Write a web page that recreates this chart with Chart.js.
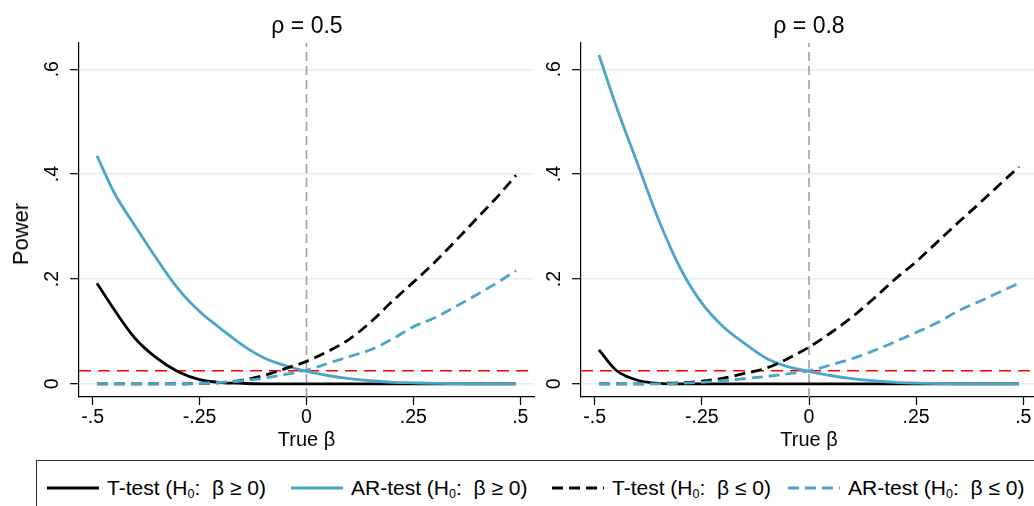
<!DOCTYPE html>
<html lang="en">
<head>
<meta charset="UTF-8">
<title>Power of one-sided tests</title>
<script src="https://cdn.jsdelivr.net/npm/chart.js"></script>
<style>
  body {
    margin: 0;
    width: 1034px;
    height: 506px;
    overflow: hidden;
    position: relative;
    background: #fff;
    color: #000;
    font-family: "Liberation Sans", Arial, sans-serif;
  }
  canvas { position: absolute; top: 0; }
  #chartRho05 { left: 0; }
  #chartRho08 { left: 502px; }

  .panel-title {
    position: absolute;
    top: 14px;
    font-size: 23px;
    line-height: 23px;
    white-space: nowrap;
    transform: translateX(-50%);
  }
  #yTitle {
    position: absolute;
    left: 21px;
    top: 234px;
    font-size: 22px;
    line-height: 22px;
    transform: translate(-50%, -50%) rotate(-90deg);
  }

  #legendBox {
    position: absolute;
    left: 36px;
    top: 460px;
    width: 1020px;
    height: 60px;
    border: 1px solid #333;
  }
  .key-line { position: absolute; top: 485px; }
  .key-text {
    position: absolute;
    top: 477px;
    font-size: 21px;
    line-height: 21px;
    white-space: nowrap;
  }
  .key-text sub { font-size: 12.5px; vertical-align: -3px; line-height: 0; }
</style>
</head>
<body>
  <canvas id="chartRho05" width="541" height="455"></canvas>
  <canvas id="chartRho08" width="542" height="455"></canvas>

  <div class="panel-title" style="left:307px">ρ = 0.5</div>
  <div class="panel-title" style="left:809px">ρ = 0.8</div>
  <div id="yTitle">Power</div>

  <div id="legendBox"></div>
  <div id="legendItems"></div>

<script>
// true beta grid used in the simulations
const beta = [-0.49, -0.45, -0.4, -0.35, -0.3, -0.25, -0.2, -0.15, -0.1, -0.05, 0,
              0.05, 0.1, 0.15, 0.2, 0.25, 0.3, 0.35, 0.4, 0.45, 0.49];

// rho = 0.5
const tPosRho05  = [0.192, 0.142, 0.086, 0.049, 0.023, 0.008, 0.0025, 0.001, 0, 0, 0,
                    0, 0, 0, 0, 0, 0, 0, 0, 0, 0];
const arPosRho05 = [0.435, 0.365, 0.300, 0.238, 0.181, 0.138, 0.105, 0.074, 0.050, 0.035, 0.024,
                    0.016, 0.010, 0.006, 0.003, 0.002, 0.001, 0.0005, 0, 0, 0];
const tNegRho05  = [0, 0, 0, 0, 0, 0.001, 0.0025, 0.007, 0.016, 0.029, 0.043,
                    0.062, 0.085, 0.118, 0.157, 0.194, 0.232, 0.274, 0.317, 0.360, 0.398];
const arNegRho05 = [0, 0, 0, 0, 0, 0.001, 0.003, 0.006, 0.011, 0.018, 0.026,
                    0.039, 0.052, 0.065, 0.085, 0.109, 0.126, 0.148, 0.171, 0.195, 0.216];

// rho = 0.8
const tPosRho08  = [0.065, 0.026, 0.007, 0.001, 0, 0, 0, 0, 0, 0, 0,
                    0, 0, 0, 0, 0, 0, 0, 0, 0, 0];
const arPosRho08 = [0.627, 0.530, 0.420, 0.311, 0.220, 0.154, 0.109, 0.077, 0.049, 0.033, 0.024,
                    0.016, 0.010, 0.006, 0.003, 0.0015, 0.0005, 0, 0, 0, 0];
const tNegRho08  = [0, 0, 0, 0.001, 0.002, 0.005, 0.011, 0.020, 0.030, 0.048, 0.070,
                    0.097, 0.127, 0.162, 0.199, 0.233, 0.271, 0.309, 0.346, 0.384, 0.414];
const arNegRho08 = [0, 0, 0, 0, 0.001, 0.003, 0.006, 0.010, 0.014, 0.019, 0.025,
                    0.036, 0.048, 0.063, 0.080, 0.098, 0.117, 0.140, 0.158, 0.177, 0.192];

const xTickValues = [-0.5, -0.25, 0, 0.25, 0.5];
const xTickLabels = ['-.5', '-.25', '0', '.25', '.5'];
const yTickValues = [0, 0.2, 0.4, 0.6];
const yTickLabels = ['0', '.2', '.4', '.6'];

const alphaLevel = 0.025;   // nominal size, red reference line

const legendNames = ['T-test', 'AR-test', 'T-test', 'AR-test'];
const legendSigns = ['≥', '≥', '≤', '≤'];

const FONT = '"Liberation Sans", Arial, sans-serif';
const BLUE = '#4ba5c9';
const DASH = [11, 6];
const X_MIN = -0.532, X_MAX = 0.532;
const Y_MIN = -0.025, Y_MAX = 0.65;

// look of the four curves, in legend order
const curveStyles = [
  { color: '#000', dash: [] },
  { color: BLUE, dash: [] },
  { color: '#000', dash: DASH },
  { color: BLUE, dash: DASH }
];

function toPoints(ys) {
  return beta.map((b, i) => ({ x: b, y: ys[i] }));
}

function makeChart(canvasId, curves) {
  // dataset 0 is painted last, so the later legend entries go first
  const datasets = curves.map((ys, i) => ({
    data: toPoints(ys),
    borderColor: curveStyles[i].color,
    borderDash: curveStyles[i].dash,
    borderWidth: 2.8,
    cubicInterpolationMode: 'monotone'
  })).reverse();

  datasets.push({
    data: [{ x: X_MIN, y: alphaLevel }, { x: X_MAX, y: alphaLevel }],
    borderColor: '#ff0000',
    borderDash: [12, 7],
    borderWidth: 1.6
  });
  datasets.push({
    data: [{ x: 0, y: Y_MIN }, { x: 0, y: Y_MAX }],
    borderColor: '#a0a0a0',
    borderDash: [9, 5],
    borderWidth: 1.6
  });

  return new Chart(document.getElementById(canvasId), {
    type: 'line',
    data: { datasets: datasets },
    options: {
      responsive: false,
      animation: false,
      devicePixelRatio: 1,
      layout: { padding: { top: 43, right: 7, left: 0, bottom: 0 } },
      plugins: {
        legend: { display: false },
        tooltip: { enabled: false }
      },
      elements: {
        point: { radius: 0 },
        line: { tension: 0, fill: false }
      },
      scales: {
        x: {
          type: 'linear',
          min: X_MIN,
          max: X_MAX,
          afterBuildTicks: s => { s.ticks = xTickValues.map(v => ({ value: v })); },
          afterFit: s => { s.height = 58; },
          ticks: {
            callback: (v, i) => xTickLabels[i],
            font: { family: FONT, size: 19.5 },
            color: '#000',
            padding: 1,
            maxRotation: 0
          },
          grid: { drawOnChartArea: false, tickLength: 8, tickColor: '#000', tickWidth: 1.2 },
          border: { color: '#000', width: 1.2 },
          title: {
            display: true,
            text: 'True β',
            font: { family: FONT, size: 20 },
            color: '#000',
            padding: { top: 0, bottom: 3 }
          }
        },
        y: {
          type: 'linear',
          min: Y_MIN,
          max: Y_MAX,
          afterBuildTicks: s => { s.ticks = yTickValues.map(v => ({ value: v })); },
          afterFit: s => { s.width = 79; },
          ticks: {
            callback: (v, i) => yTickLabels[i],
            font: { family: FONT, size: 19.5 },
            color: '#000',
            padding: 9,
            minRotation: 90,
            maxRotation: 90,
            crossAlign: 'center'
          },
          grid: { color: '#e4edf0', lineWidth: 1.4, tickLength: 9, tickColor: '#000', tickWidth: 1.2 },
          border: { color: '#000', width: 1.2 }
        }
      }
    }
  });
}

makeChart('chartRho05', [tPosRho05, arPosRho05, tNegRho05, arNegRho05]);
makeChart('chartRho08', [tPosRho08, arPosRho08, tNegRho08, arNegRho08]);

// legend below both panels
const keyLeft = [47, 291, 552, 788];
const keyLen = 52;
const legendItems = document.getElementById('legendItems');
legendNames.forEach((name, i) => {
  const st = curveStyles[i];
  const svg = document.createElementNS('http://www.w3.org/2000/svg', 'svg');
  svg.setAttribute('class', 'key-line');
  svg.setAttribute('width', keyLen);
  svg.setAttribute('height', 6);
  svg.style.left = keyLeft[i] + 'px';
  const line = document.createElementNS('http://www.w3.org/2000/svg', 'line');
  line.setAttribute('x1', 0);
  line.setAttribute('y1', 3);
  line.setAttribute('x2', keyLen);
  line.setAttribute('y2', 3);
  line.setAttribute('stroke', st.color);
  line.setAttribute('stroke-width', 3);
  if (st.dash.length) line.setAttribute('stroke-dasharray', st.dash.join(' '));
  svg.appendChild(line);
  legendItems.appendChild(svg);

  const txt = document.createElement('div');
  txt.className = 'key-text';
  txt.style.left = (keyLeft[i] + keyLen + 8) + 'px';
  txt.innerHTML = name + ' (H<sub>0</sub>:&nbsp; β ' + legendSigns[i] + ' 0)';
  legendItems.appendChild(txt);
});
</script>
</body>
</html>
